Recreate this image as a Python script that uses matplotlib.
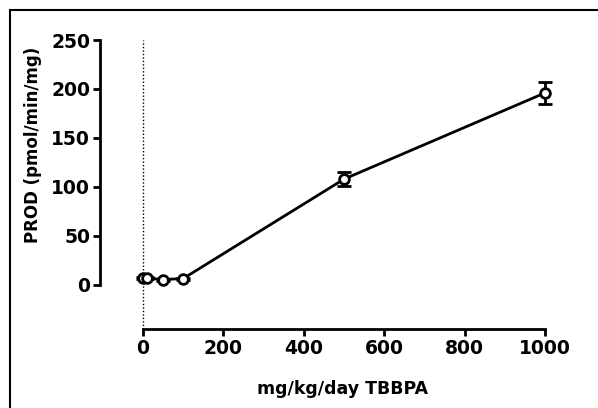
import matplotlib
matplotlib.use("Agg")
import matplotlib.pyplot as plt
from matplotlib.lines import Line2D

dose = [0, 10, 50, 100, 500, 1000]
prod = [7.5, 7.0, 5.5, 6.5, 108, 196]
err = [1.0, 1.0, 1.0, 1.0, 7, 11]
xticks = [0, 200, 400, 600, 800, 1000]
yticks = [0, 50, 100, 150, 200, 250]

plt.rcParams['font.family'] = ['DejaVu Sans']
plt.rcParams['font.weight'] = 'bold'

fig = plt.figure(figsize=(5.98, 4.08), dpi=100)
W, H = 598, 408
ax = fig.add_axes([100 / W, (H - 329) / H, (545 - 100) / W, (329 - 40) / H])

ax.axvline(0, color='black', lw=1.0, ls=(0, (1, 1.5)), zorder=1)
ax.errorbar(dose, prod, yerr=err, color='black', lw=2, marker='o', ms=7,
            mfc='white', mew=2, capsize=5, capthick=2, elinewidth=2, zorder=3,
            clip_on=False)

ax.set_xlim(-107, 1000)
ax.set_ylim(-45, 250)
ax.set_xticks(xticks)
ax.set_yticks(yticks)
ax.spines['top'].set_visible(False)
ax.spines['right'].set_visible(False)
ax.spines['left'].set_bounds(0, 250)
ax.spines['bottom'].set_bounds(0, 1000)
for s in ('left', 'bottom'):
    ax.spines[s].set_linewidth(2)
ax.tick_params(width=2, length=5, labelsize=13.5, pad=2)
for lab in ax.get_xticklabels() + ax.get_yticklabels():
    lab.set_fontweight('bold')

fig.text(343 / W, 1 - 389 / H, 'mg/kg/day TBBPA', ha='center', va='center',
         fontsize=12.5, fontweight='bold')
fig.text(33 / W, 1 - 145 / H, 'PROD (pmol/min/mg)', ha='center', va='center',
         rotation=90, fontsize=12, fontweight='bold')

fig.add_artist(Line2D([10 / W, 10 / W], [0, 1 - 10 / H], transform=fig.transFigure,
                      color='black', lw=1.5))
fig.add_artist(Line2D([10 / W, 1], [1 - 10 / H, 1 - 10 / H], transform=fig.transFigure,
                      color='black', lw=1.5))

fig.savefig('out.png', dpi=100)
